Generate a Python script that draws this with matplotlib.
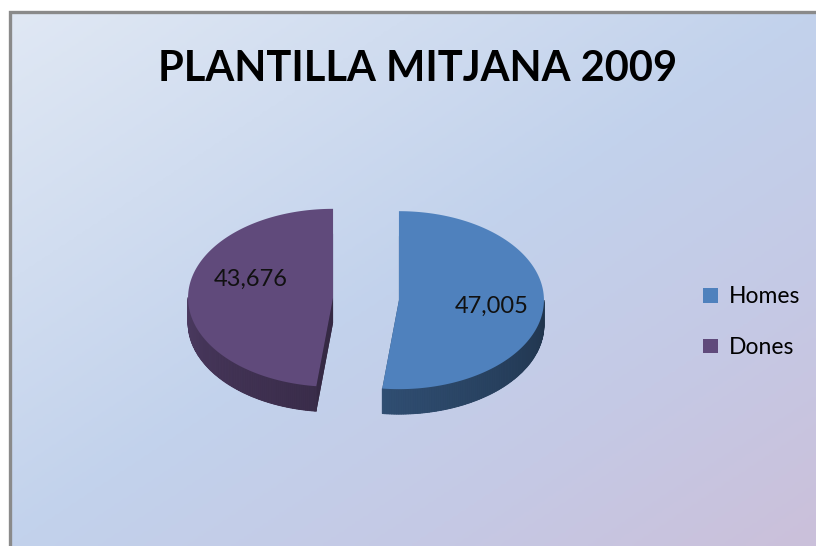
import matplotlib.pyplot as plt
import numpy as np
from matplotlib.colors import LinearSegmentedColormap, to_rgb
from matplotlib.patches import Patch, Polygon

TITLE = "PLANTILLA MITJANA 2009"
labels = ["Homes", "Dones"]
values = [47005, 43676]
value_text = ["47,005", "43,676"]
colors = ["#4F81BD", "#604A7B"]

W, H = 816, 546
FONT = "Lato"

# pie layout in pixels
CX, CY = 366, 299
RX, RY = 145, 89
DEPTH = 25
EXPLODE = 33
LABEL_R = [0.64, 0.57]
LABEL_DY = [3, -16]


def shade(color, f):
    return tuple(np.clip(np.array(to_rgb(color)) * f, 0, 1))


def ellipse_pt(theta, ox, oy):
    return ox + RX * np.cos(theta), oy - RY * np.sin(theta)


fig = plt.figure(figsize=(W / 100, H / 100), dpi=100)
ax = fig.add_axes([0, 0, 1, 1])
ax.set_xlim(0, W)
ax.set_ylim(H, 0)
ax.axis("off")

# background gradient along the diagonal
bg = LinearSegmentedColormap.from_list(
    "bg", [(0, "#E0E8F4"), (0.5, "#C2D2EC"), (0.75, "#C5C9E5"), (1, "#CBC0DA")])
xx, yy = np.meshgrid(np.linspace(0, 1, 300), np.linspace(0, 1, 200))
ax.imshow(bg((xx + yy) / 2), extent=[9, W, H, 12],
          aspect="auto", zorder=0, interpolation="bilinear")
ax.plot([9.5, 9.5, W], [H, 11.5, 11.5], color="#8A8A8A", lw=2.4, zorder=1,
        solid_joinstyle="miter")

# 3D exploded pie, slices start at 12 o'clock, clockwise
total = sum(values)
start = np.pi / 2
for i, (val, col, txt) in enumerate(zip(values, colors, value_text)):
    sweep = 2 * np.pi * val / total
    a0, a1 = start - sweep, start
    mid = (a0 + a1) / 2
    ox = CX + EXPLODE * np.cos(mid)
    oy = CY - EXPLODE * RY / RX * np.sin(mid)

    ts = np.linspace(a0, a1, 200)
    top = [(ox, oy)] + [ellipse_pt(t, ox, oy) for t in ts]
    bottom = [(x, y + DEPTH) for x, y in top]

    ax.add_patch(Polygon(bottom, closed=True, fc=shade(col, 0.45),
                         ec="none", zorder=2))
    # cut faces
    for a in (a0, a1):
        p1 = ellipse_pt(a, ox, oy)
        quad = [(ox, oy), p1, (p1[0], p1[1] + DEPTH), (ox, oy + DEPTH)]
        ax.add_patch(Polygon(quad, closed=True, fc=shade(col, 0.55),
                             ec="none", zorder=3))
    # outer wall, lit from the left
    for t0, t1 in zip(ts[:-1], ts[1:]):
        tm = (t0 + t1) / 2
        if np.sin(tm) >= 0:
            continue
        ang = np.degrees(tm) % 360
        f = 0.78 - 0.38 * (ang - 180) / 180
        q0 = ellipse_pt(t0, ox, oy)
        q1 = ellipse_pt(t1, ox, oy)
        quad = [q0, q1, (q1[0], q1[1] + DEPTH), (q0[0], q0[1] + DEPTH)]
        ax.add_patch(Polygon(quad, closed=True, fc=shade(col, f),
                             ec=shade(col, f), lw=0.6, zorder=4))
    ax.add_patch(Polygon(top, closed=True, fc=col, ec="none", zorder=5))

    lx = ox + LABEL_R[i] * RX * np.cos(mid)
    ly = oy - LABEL_R[i] * RY * np.sin(mid) + LABEL_DY[i]
    ax.text(lx, ly, txt, ha="center", va="center", fontsize=17,
            family=FONT, color="#111111", zorder=6)
    start = a0

ax.text(418, 69, TITLE, ha="center", va="center", fontsize=30,
        fontweight="bold", family=FONT, color="black", zorder=6)

handles = [Patch(fc=c, ec="none") for c in colors]
ax.legend(handles, labels, loc="center left", bbox_to_anchor=(0.862, 0.41),
          frameon=False, prop={"family": FONT, "size": 16.5},
          handlelength=0.62, handleheight=0.62, handletextpad=0.5,
          labelspacing=1.3, borderpad=0, borderaxespad=0)

fig.savefig("out.png", dpi=100, facecolor="white")
